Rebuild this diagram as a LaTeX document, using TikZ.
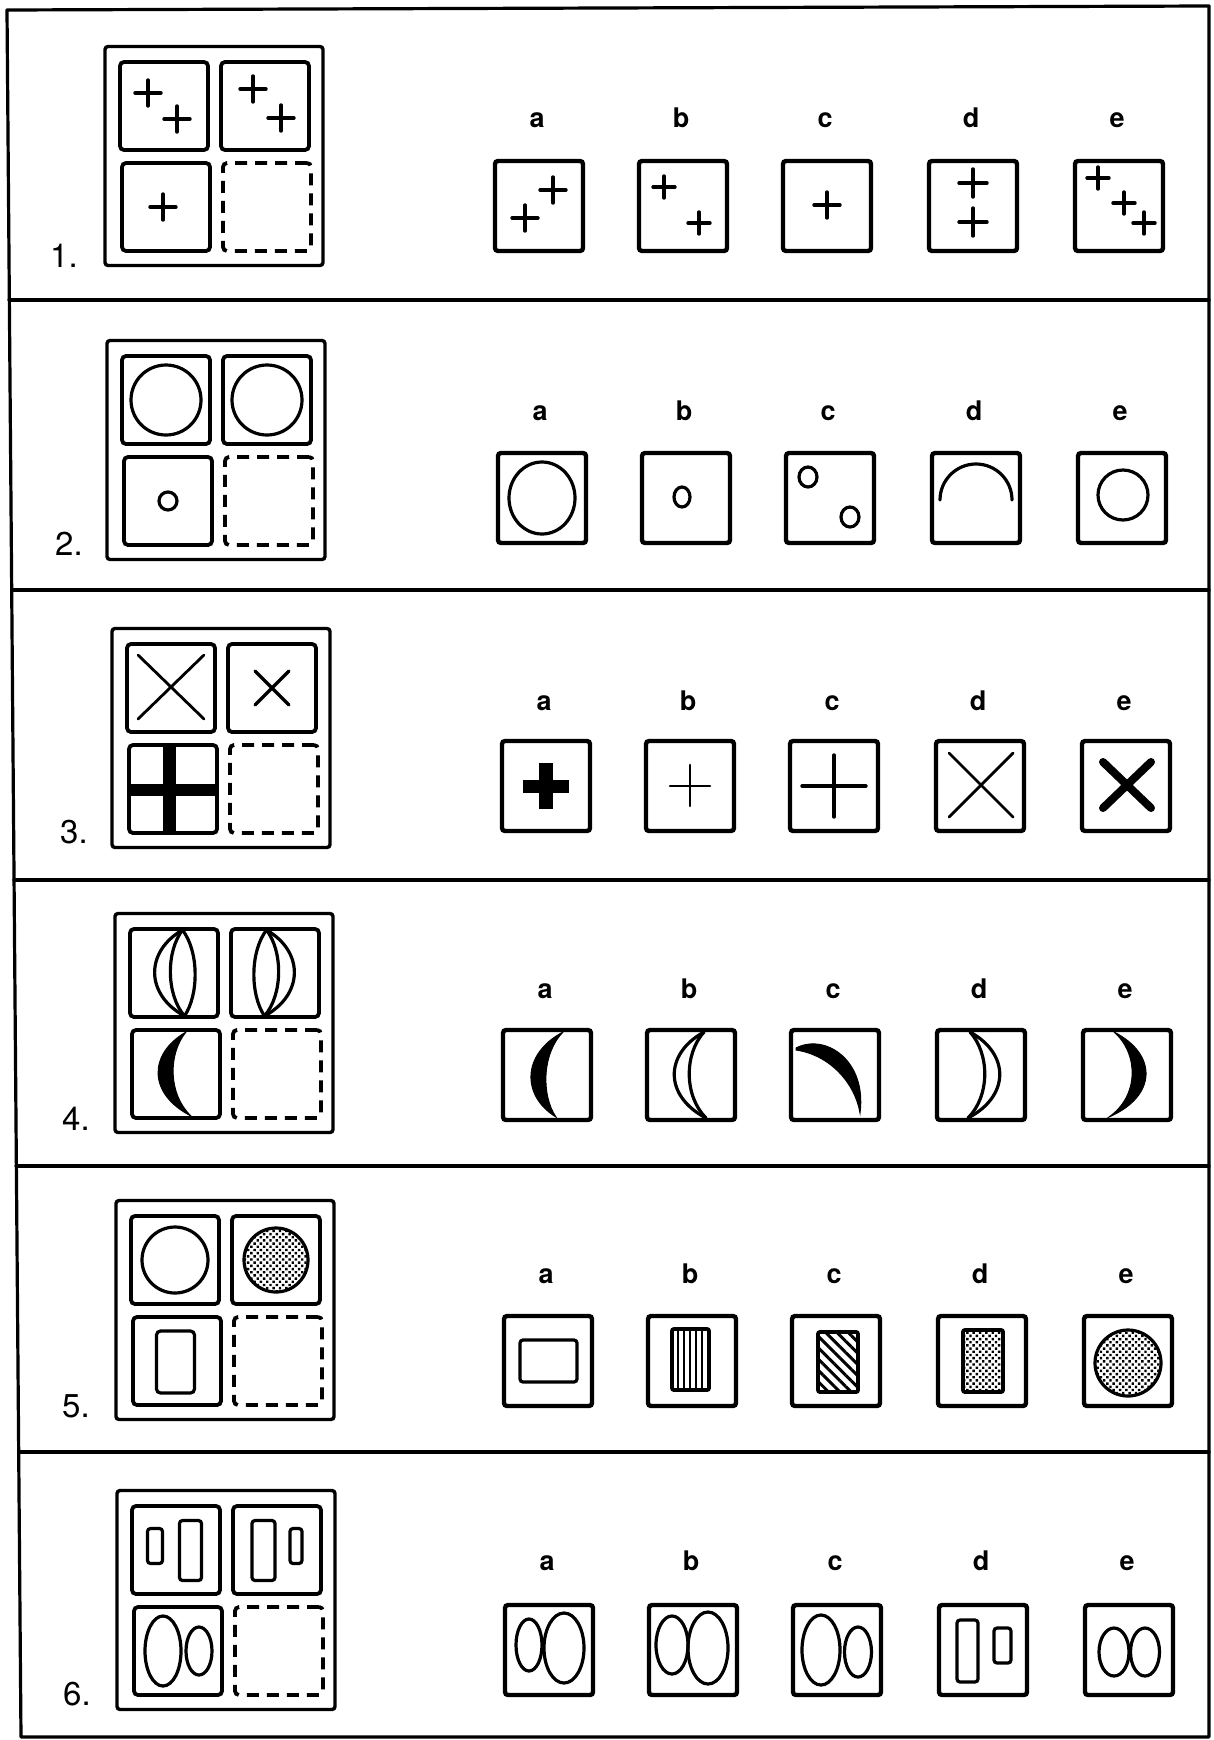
\documentclass[tikz,border=0pt]{standalone}
\usepackage{fontspec}
\setmainfont{TeX Gyre Heros}
\usetikzlibrary{positioning,calc,patterns.meta}

\begin{document}
\begin{tikzpicture}[x=1pt, y=-1pt]

%% ── helpers ───────────────────────────────────────────────
\tikzset{
  border/.style={line width=3.2pt, line cap=round, line join=round},
  mat/.style={draw, line width=3.4pt, rounded corners=3pt,
              minimum width=218pt, minimum height=219pt, inner sep=0pt},
  cell/.style={draw, line width=3.8pt, rounded corners=4pt,
               minimum size=88pt, inner sep=0pt},
  blank/.style={cell, dash pattern=on 12pt off 8pt},
  abox/.style={draw, line width=4.4pt, rounded corners=3pt,
               minimum width=88pt, minimum height=90pt, inner sep=0pt},
  num/.style={font=\fontsize{33}{33}\selectfont, anchor=base west, inner sep=0pt},
  opt/.style={font=\fontsize{27}{27}\selectfont\bfseries, anchor=base, inner sep=0pt},
  ink/.style={line width=3.2pt, line cap=round},
  dots/.style={pattern={Dots[angle=45,distance=4.5pt,radius=1.7pt]}},
  pics/pls/.style={code={\draw[ink,line width=3.4pt] (-#1,0) -- (#1,0) (0,-#1) -- (0,#1);}},
}

\useasboundingbox (0,0) rectangle (1213,1740);

%% ── page frame and row rules ─────────────────────────────
\draw[border] (7,10) -- (1209,6) -- (1209,1737) -- (21,1737) -- cycle;
\foreach \y/\x in {300/9, 590/12, 880/14, 1166/16, 1452/19}
  \draw[border] (\x,\y) -- (1209,\y);

%% ── puzzle matrices (left) ───────────────────────────────
\foreach \r/\mx/\my in {1/214/156, 2/216/450, 3/221/738,
                        4/224/1023, 5/225/1310, 6/226/1600} {
  \node[mat]   (m\r)    at (\mx,\my) {};
  \node[cell]  (m\r-tl) at ([shift={(-50,-50)}]m\r.center) {};
  \node[cell]  (m\r-tr) at ([shift={(51,-50)}]m\r.center) {};
  \node[cell]  (m\r-bl) at ([shift={(-48,51)}]m\r.center) {};
  \node[blank] (m\r-q)  at ([shift={(53,51)}]m\r.center) {};
}

\foreach \r/\nx/\ny in {1/50/267, 2/55/555, 3/60/843,
                        4/62/1130, 5/62/1417, 6/63/1705}
  \node[num] (n\r) at (\nx,\ny) {\r.};

%% ── answer boxes and letters (right) ─────────────────────
\foreach \r/\ax/\ay/\ly in {1/539/206/127, 2/542/498/420, 3/546/786/710,
                            4/547/1075/998, 5/548/1361/1283, 6/549/1650/1570}
  \foreach \l/\dx in {a/0, b/144, c/288, d/434, e/580} {
    \node[abox] (r\r\l) at (\ax+\dx,\ay) {};
    \node[opt]  (o\r\l) at (\ax+\dx-2,\ly) {\l};
  }

%% ── row 1: crosses ───────────────────────────────────────
\begin{scope}[shift={(m1-tl.center)}]
  \pic at (-16,-13) {pls=13}; \pic at (13,13) {pls=13};
\end{scope}
\begin{scope}[shift={(m1-tr.center)}]
  \pic at (-12,-17) {pls=13}; \pic at (16,12) {pls=13};
\end{scope}
\begin{scope}[shift={(m1-bl.center)}]
  \pic at (-3,0) {pls=13};
\end{scope}
\begin{scope}[shift={(r1a.center)}]
  \pic at (14,-16) {pls=13}; \pic at (-14,12) {pls=13};
\end{scope}
\begin{scope}[shift={(r1b.center)}]
  \pic at (-19,-19) {pls=11}; \pic at (16,17) {pls=11};
\end{scope}
\begin{scope}[shift={(r1c.center)}]
  \pic at (0,-1) {pls=13};
\end{scope}
\begin{scope}[shift={(r1d.center)}]
  \pic at (0,-23) {pls=14}; \pic at (0,16) {pls=14};
\end{scope}
\begin{scope}[shift={(r1e.center)}]
  \pic at (-21,-28) {pls=11}; \pic at (5,-3) {pls=11}; \pic at (25,17) {pls=11};
\end{scope}

%% ── row 2: circles ───────────────────────────────────────
\draw[ink] (m2-tl.center) circle[radius=35];
\draw[ink] (m2-tr.center) circle[radius=35];
\draw[ink] (m2-bl.center) circle[radius=9];
\begin{scope}[shift={(r2a.center)}]
  \draw[ink] (0,0) ellipse[x radius=33, y radius=36];
\end{scope}
\begin{scope}[shift={(r2b.center)}]
  \draw[ink] (-4,-1) ellipse[x radius=8, y radius=10];
\end{scope}
\begin{scope}[shift={(r2c.center)}]
  \draw[ink] (-22,-21) ellipse[x radius=9, y radius=10];
  \draw[ink] (20,19) ellipse[x radius=9, y radius=10];
\end{scope}
\begin{scope}[shift={(r2d.center)}]
  \draw[ink] (-36,2) arc[start angle=180, end angle=360, radius=36];
\end{scope}
\begin{scope}[shift={(r2e.center)}]
  \draw[ink] (1,-3) circle[radius=25];
\end{scope}

%% ── row 3: crosses and saltires ──────────────────────────
\begin{scope}[shift={(m3-tl.center)}]
  \draw[ink,line width=2.8pt] (-33,-33) -- (33,31) (-33,31) -- (33,-33);
\end{scope}
\begin{scope}[shift={(m3-tr.center)}]
  \draw[ink,line width=3.4pt] (-17,-17) -- (17,17) (-17,17) -- (17,-17);
\end{scope}
\begin{scope}[shift={(m3-bl.center)}]
  \fill (-10,-44) rectangle (3,44);
  \fill (-44,-5) rectangle (44,7);
\end{scope}
\begin{scope}[shift={(r3a.center)}]
  \fill (-7,-23) rectangle (7,23);
  \fill (-23,-6.5) rectangle (23,6.5);
\end{scope}
\begin{scope}[shift={(r3b.center)}]
  \draw[ink,line width=2.6pt] (-20,0) -- (20,0) (0,-21) -- (0,20);
\end{scope}
\begin{scope}[shift={(r3c.center)}]
  \draw[ink,line width=3.4pt] (-32,0) -- (32,0) (0,-31) -- (0,31);
\end{scope}
\begin{scope}[shift={(r3d.center)}]
  \draw[ink,line width=2.8pt] (-31,-33) -- (33,31) (-31,31) -- (33,-33);
\end{scope}
\begin{scope}[shift={(r3e.center)}]
  \draw[ink,line width=8pt] (-23,-24) -- (25,22) (-23,22) -- (25,-24);
\end{scope}

%% ── row 4: crescents ─────────────────────────────────────
\begin{scope}[shift={(m4-tl.center)}]
  \draw[ink] (8.5,-43) .. controls (-29,-21.5) and (-29,21.5) .. (10.5,43);
  \draw[ink] (8.5,-43) .. controls (-8,-21.5) and (-8,21.5) .. (10.5,43);
  \draw[ink] (8.5,-43) .. controls (25,-21.5) and (25,21.5) .. (10.5,43);
\end{scope}
\begin{scope}[shift={(m4-tr.center)}]
  \draw[ink] (-8.5,-43) .. controls (-25,-21.5) and (-25,21.5) .. (-10.5,43);
  \draw[ink] (-8.5,-43) .. controls (8,-21.5) and (8,21.5) .. (-10.5,43);
  \draw[ink] (-8.5,-43) .. controls (29,-21.5) and (29,21.5) .. (-10.5,43);
\end{scope}
\begin{scope}[shift={(m4-bl.center)}]
  \filldraw[line width=1pt] (10,-42) .. controls (-28,-20) and (-28,20) .. (15,42)
        .. controls (-8,20) and (-8,-20) .. (10,-42) -- cycle;
\end{scope}
\begin{scope}[shift={(r4a.center)}]
  \filldraw[line width=1pt] (16,-43) .. controls (-25.5,-21) and (-25.5,21) .. (9,42)
        .. controls (-5.5,21) and (-5.5,-21) .. (16,-43) -- cycle;
\end{scope}
\begin{scope}[shift={(r4b.center)}]
  \draw[ink] (13,-43) .. controls (-27,-21) and (-27,21) .. (15,43);
  \draw[ink] (13,-43) .. controls (-7,-21) and (-7,21) .. (15,43);
\end{scope}
\begin{scope}[shift={(r4c.center)}]
  \filldraw[line width=1pt] (-39,-27) .. controls (-10,-42) and (32,-15) .. (25,38)
        .. controls (20,8) and (-5,-20) .. (-39,-25) -- cycle;
\end{scope}
\begin{scope}[shift={(r4d.center)}]
  \draw[ink] (-11,-43) .. controls (29,-21) and (29,21) .. (-13,43);
  \draw[ink] (-11,-43) .. controls (9,-21) and (9,21) .. (-13,43);
\end{scope}
\begin{scope}[shift={(r4e.center)}]
  \filldraw[line width=1pt] (-13,-43) .. controls (30.5,-21) and (30.5,21) .. (-18,42)
        .. controls (12,21) and (12,-21) .. (-13,-43) -- cycle;
\end{scope}

%% ── row 5: shading ───────────────────────────────────────
\draw[ink] (m5-tl.center) circle[radius=33];
\draw[ink,dots] (m5-tr.center) circle[radius=32];
\begin{scope}[shift={(m5-bl.center)}]
  \draw[ink,rounded corners=4pt] (-20.5,-30) rectangle (17.5,32);
\end{scope}
\begin{scope}[shift={(r5a.center)}]
  \draw[ink,rounded corners=3pt] (-28,-21) rectangle (29,21);
\end{scope}
\begin{scope}[shift={(r5b.center)}]
  \draw[ink,line width=3.8pt,rounded corners=2pt,
        pattern={Lines[angle=90,distance=6pt,line width=2.2pt]}] (-20,-32) rectangle (17,29);
\end{scope}
\begin{scope}[shift={(r5c.center)}]
  \draw[ink,line width=3.8pt,rounded corners=2pt,
        pattern={Lines[angle=-45,distance=8pt,line width=3pt]}] (-18,-29) rectangle (22,31);
\end{scope}
\begin{scope}[shift={(r5d.center)}]
  \draw[ink,line width=3.8pt,rounded corners=2pt,dots] (-19,-31) rectangle (21,31);
\end{scope}
\begin{scope}[shift={(r5e.center)}]
  \draw[ink,dots] (0,2) circle[radius=33];
\end{scope}

%% ── row 6: bars and ovals ────────────────────────────────
\begin{scope}[shift={(m6-tl.center)}]
  \draw[ink,rounded corners=3pt] (-28.5,-21.5) rectangle (-13.5,13.5);
  \draw[ink,rounded corners=3pt] (3.5,-29.5) rectangle (25.5,30.5);
\end{scope}
\begin{scope}[shift={(m6-tr.center)}]
  \draw[ink,rounded corners=3pt] (-25,-29.5) rectangle (-2,30.5);
  \draw[ink,rounded corners=3pt] (13,-21.5) rectangle (25,13.5);
\end{scope}
\begin{scope}[shift={(m6-bl.center)}]
  \draw[ink] (-15,0) ellipse[x radius=18, y radius=35];
  \draw[ink] (21,0) ellipse[x radius=13, y radius=24];
\end{scope}
\begin{scope}[shift={(r6a.center)}]
  \draw[ink] (-20,-5) ellipse[x radius=13, y radius=26];
  \draw[ink] (15,-2) ellipse[x radius=20, y radius=35];
\end{scope}
\begin{scope}[shift={(r6b.center)}]
  \draw[ink] (-21,-5) ellipse[x radius=16, y radius=29];
  \draw[ink] (15,-2) ellipse[x radius=20, y radius=36];
\end{scope}
\begin{scope}[shift={(r6c.center)}]
  \draw[ink] (-16,0) ellipse[x radius=19, y radius=35];
  \draw[ink] (21,2) ellipse[x radius=13.5, y radius=25];
\end{scope}
\begin{scope}[shift={(r6d.center)}]
  \draw[ink,rounded corners=3pt] (-26,-30) rectangle (-5,32);
  \draw[ink,rounded corners=3pt] (11,-22) rectangle (28,13);
\end{scope}
\begin{scope}[shift={(r6e.center)}]
  \draw[ink] (-15,2) ellipse[x radius=15, y radius=24];
  \draw[ink] (16,2) ellipse[x radius=14.5, y radius=24];
\end{scope}

\end{tikzpicture}
\end{document}
